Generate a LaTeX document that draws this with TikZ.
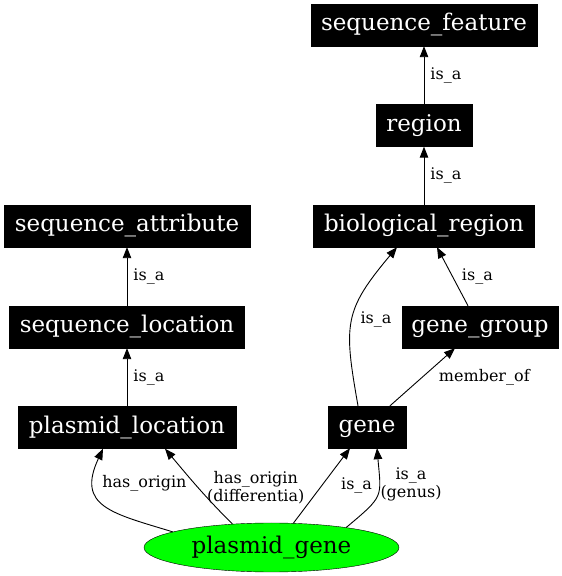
\documentclass[tikz,border=0pt]{standalone}
\usepackage{fontspec}
\setmainfont{DejaVu Serif}
\usetikzlibrary{arrows.meta, shapes.geometric}

\begin{document}
\begin{tikzpicture}[x=1pt, y=1pt,
	term/.style={rectangle, fill=black, draw=black, text=white, minimum height=42pt, inner sep=0pt, text height=17pt, text depth=5.5pt, font=\fontsize{23}{27}\selectfont},
	edge/.style={-{Triangle[length=11pt, width=8.5pt]}, line width=0.9pt},
	lbl/.style={inner sep=0pt, align=center, font=\fontsize{16}{18}\selectfont}]
	\useasboundingbox (0, 0) rectangle (562, 576);

	\node[term, minimum width=226pt] (sequence_feature) at (424, 551) {sequence\_feature};
	\node[term, minimum width=96pt] (region) at (424, 450.5) {region};
	\node[term, minimum width=221pt] (biological_region) at (424, 350) {biological\_region};
	\node[term, minimum width=246pt] (sequence_attribute) at (127, 350) {sequence\_attribute};
	\node[term, minimum width=235pt] (sequence_location) at (127, 249) {sequence\_location};
	\node[term, minimum width=218pt] (plasmid_location) at (127, 148.5) {plasmid\_location};
	\node[term, minimum width=156pt] (gene_group) at (480, 249) {gene\_group};
	\node[term, minimum width=78pt] (gene) at (367, 149) {gene};
	\node[ellipse, draw=black, fill=green, minimum width=255pt, minimum height=49pt, inner sep=0pt, text height=17pt, text depth=5.5pt, font=\fontsize{23}{27}\selectfont] (plasmid_gene) at (271.5, 28.5) {plasmid\_gene};

	% Draw the edges between nodes with labels
	\draw[edge] (region) -- node[lbl, right=6pt] (isa1) {is\_a} (sequence_feature);
	\draw[edge] (biological_region) -- node[lbl, right=6pt] (isa2) {is\_a} (region);
	\draw[edge] (sequence_location) -- node[lbl, right=6pt] (isa3) {is\_a} (sequence_attribute);
	\draw[edge] (plasmid_location) -- node[lbl, right=6pt] (isa4) {is\_a} (sequence_location);
	\draw[edge] ([xshift=-12pt]gene_group.north) -- node[lbl, right=9pt] (isa5) {is\_a} ([xshift=13pt]biological_region.south);
	\draw[edge] ([xshift=-9pt]gene.north) to[out=100, in=230, looseness=1.3] node[lbl, right=8pt] (isa6) {is\_a} ([xshift=-27pt]biological_region.south);
	\draw[edge] ([xshift=23pt]gene.north) -- node[lbl, right=16pt] (memberof) {member\_of} ([xshift=-25pt]gene_group.south);
	\draw[edge] (plasmid_gene.171) to[out=163, in=245, looseness=1.5] node[lbl, pos=0.75, right=8pt] (origin1) {has\_origin} ([xshift=-24pt]plasmid_location.south);
	\draw[edge] (plasmid_gene.149) to[out=135, in=-50] node[lbl, right=9pt] (origin2) {has\_origin\\(differentia)} ([xshift=38pt]plasmid_location.south);
	\draw[edge] (plasmid_gene.48) -- node[lbl, right=19pt] (isa7) {is\_a} ([xshift=-17pt]gene.south);
	\draw[edge] (plasmid_gene.15) to[out=40, in=-85, looseness=1.5] node[lbl, pos=0.6, right=1pt, yshift=4pt] (isa8) {is\_a\\(genus)} ([xshift=10pt]gene.south);
\end{tikzpicture}
\end{document}
